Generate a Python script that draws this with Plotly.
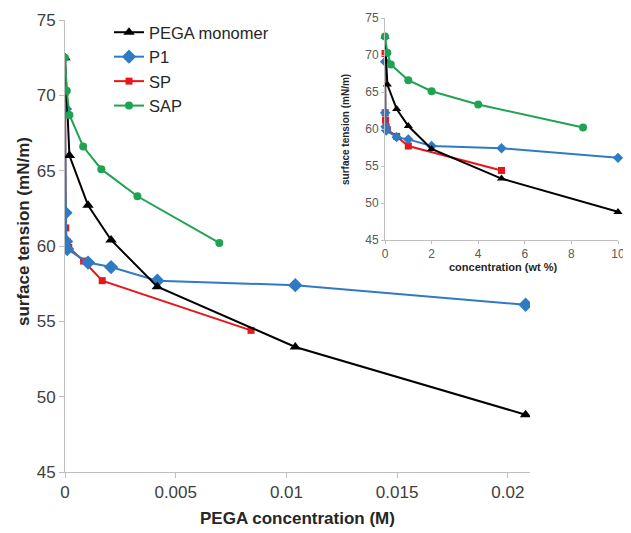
import plotly.graph_objects as go

# ---- data ----
series_names = ["PEGA monomer", "P1", "SP", "SAP"]

# main plot: PEGA concentration (M)
pega_M = [0, 0.0002, 0.00104, 0.00208, 0.00417, 0.0104, 0.0208]
p1_M = [0, 0.00002, 0.00005, 0.0001, 0.00104, 0.00208, 0.00417, 0.0104, 0.0208]
sp_M = [0, 0.000017, 0.000034, 0.000084, 0.00017, 0.00084, 0.00168, 0.0084]
sap_M = [0, 0.000082, 0.0002, 0.00082, 0.00164, 0.00327, 0.00697]

# inset: concentration (wt %)
pega_wt = [0, 0.1, 0.5, 1, 2, 5, 10]
p1_wt = [0, 0.01, 0.025, 0.05, 0.5, 1, 2, 5, 10]
sp_wt = [0, 0.01, 0.02, 0.05, 0.1, 0.5, 1, 5]
sap_wt = [0, 0.1, 0.25, 1, 2, 4, 8.5]

# surface tension (mN/m)
pega_st = [72.5, 66.0, 62.7, 60.4, 57.3, 53.3, 48.8]
p1_st = [69.1, 62.2, 60.3, 59.8, 58.9, 58.6, 57.7, 57.4, 56.1]
sp_st = [70.2, 62.2, 61.2, 60.3, 59.9, 59.0, 57.7, 54.4]
sap_st = [72.5, 70.3, 68.7, 66.6, 65.1, 63.3, 60.2]

main_x_ticks = [0, 0.005, 0.01, 0.015, 0.02]
main_x_ticklabels = ["0", "0.005", "0.01", "0.015", "0.02"]
y_ticks = [45, 50, 55, 60, 65, 70, 75]
inset_x_ticks = [0, 2, 4, 6, 8, 10]

colors = ["#000000", "#2E7BC4", "#E8161C", "#1FA352"]
symbols = ["triangle-up", "diamond", "square", "circle"]
main_sizes = [10, 11, 7, 8]
inset_sizes = [8, 8, 7, 8]

main_x = [pega_M, p1_M, sp_M, sap_M]
inset_x = [pega_wt, p1_wt, sp_wt, sap_wt]
ys = [pega_st, p1_st, sp_st, sap_st]

FONT = "Arial, Liberation Sans, sans-serif"
OFF = 8  # page offset of the figure inside the browser window
W, H = 631 - OFF, 533 - OFF


def px(v):
    return (v - OFF) / W


def py(v):
    return (H - (v - OFF)) / H


fig = go.Figure()
order = [2, 1, 0, 3]
for i in order:
    fig.add_trace(go.Scatter(
        x=main_x[i], y=ys[i], mode="lines+markers", name=series_names[i],
        line=dict(color=colors[i], width=2),
        marker=dict(symbol=symbols[i], size=main_sizes[i], color=colors[i]),
        xaxis="x", yaxis="y", legendrank=i + 1))
for i in order:
    fig.add_trace(go.Scatter(
        x=inset_x[i], y=ys[i], mode="lines+markers", showlegend=False,
        line=dict(color=colors[i], width=2),
        marker=dict(symbol=symbols[i], size=inset_sizes[i], color=colors[i]),
        xaxis="x2", yaxis="y2", cliponaxis=False))

axis_col = "#BFBFBF"
common = dict(showgrid=False, zeroline=False, showline=True, linecolor=axis_col,
              linewidth=1, tickcolor=axis_col, ticks="outside", automargin=False,
              ticklabeloverflow="allow")
fig.update_layout(
    width=W, height=H,
    margin=dict(l=0, r=0, t=0, b=0, autoexpand=False),
    paper_bgcolor="white", plot_bgcolor="white",
    font=dict(family=FONT, color="#404040"),
    xaxis=dict(domain=[px(65), px(530)], range=[0, 0.021],
               tickvals=main_x_ticks, ticktext=main_x_ticklabels, ticklen=5,
               tickfont=dict(size=17, family=FONT, color="#404040"), anchor="y", **common),
    yaxis=dict(domain=[py(472), py(20)], range=[45, 75],
               tickvals=y_ticks, ticklen=5, ticksuffix="\u00a0\u00a0",
               tickfont=dict(size=17, family=FONT, color="#404040"), anchor="x", **common),
    xaxis2=dict(domain=[px(385), px(618)], range=[0, 10], tickvals=inset_x_ticks, ticklen=3,
                tickfont=dict(size=12, family=FONT, color="#595959"), anchor="y2", **common),
    yaxis2=dict(domain=[py(240), py(18)], range=[45, 75], tickvals=y_ticks, ticklen=3,
                tickfont=dict(size=12, family=FONT, color="#595959"), anchor="x2", **common),
    legend=dict(x=px(109), y=py(15), xanchor="left", yanchor="top",
                bgcolor="rgba(255,255,255,0)", font=dict(size=16.5, family=FONT, color="#262626"),
                tracegroupgap=0, itemwidth=30, traceorder="normal"),
    annotations=[
        dict(text="<b>surface tension (mN/m)</b>", x=px(24), y=py(232),
             xref="paper", yref="paper", textangle=-90, showarrow=False,
             xanchor="center", yanchor="middle",
             font=dict(size=17, family=FONT, color="#262626")),
        dict(text="<b>PEGA concentration (M)</b>", x=px(297), y=py(518),
             xref="paper", yref="paper", showarrow=False,
             xanchor="center", yanchor="middle",
             font=dict(size=17, family=FONT, color="#262626")),
        dict(text="<b>surface tension (mN/m)</b>", x=px(346), y=py(130),
             xref="paper", yref="paper", textangle=-90, showarrow=False,
             xanchor="center", yanchor="middle",
             font=dict(size=10, family=FONT, color="#262626")),
        dict(text="<b>concentration (wt %)</b>", x=px(503), y=py(267),
             xref="paper", yref="paper", showarrow=False,
             xanchor="center", yanchor="middle",
             font=dict(size=11, family=FONT, color="#262626")),
    ],
)

fig.write_html("out.html")
